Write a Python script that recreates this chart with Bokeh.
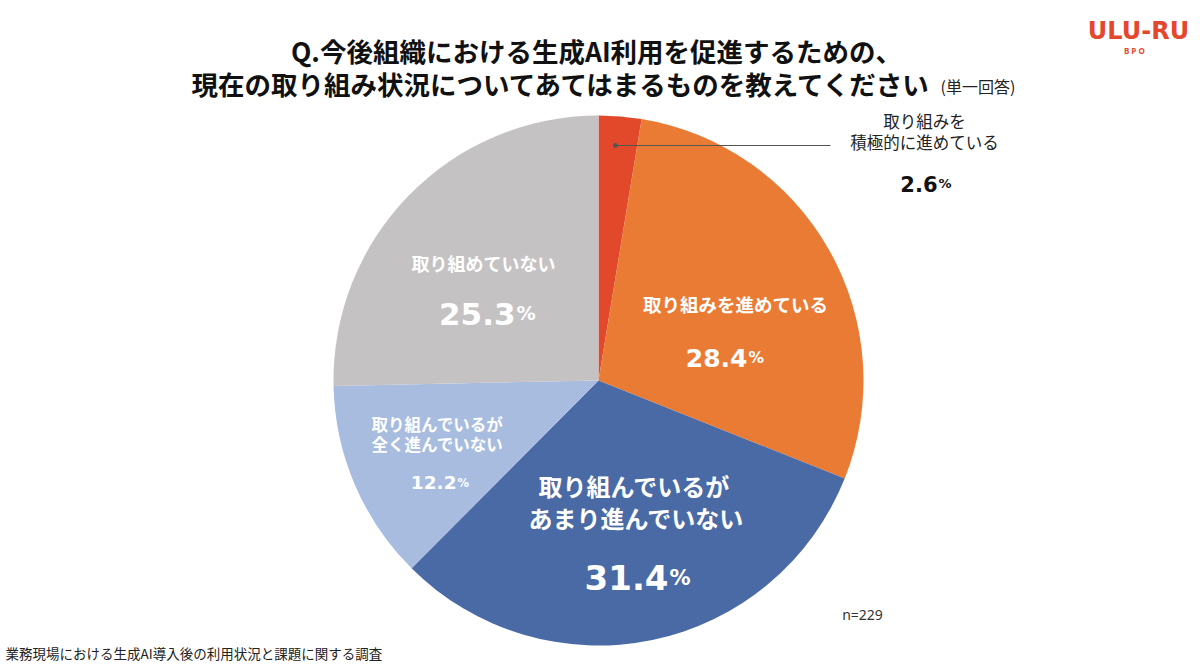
import math
from bokeh.plotting import figure
from bokeh.models import Range1d, ColumnDataSource
from bokeh.core.properties import value
from bokeh.embed import file_html
from bokeh.resources import INLINE

# ---- data ----
categories = ["取り組みを積極的に進めている", "取り組みを進めている",
              "取り組んでいるがあまり進んでいない", "取り組んでいるが全く進んでいない",
              "取り組めていない"]
shares = [2.6, 28.4, 31.4, 12.2, 25.3]
colors = ["#E2492A", "#EA7B35", "#4A6AA6", "#A8BCE0", "#C5C2C4"]
title1 = "Q.今後組織における生成AI利用を促進するための、"
title2 = "現在の取り組み状況についてあてはまるものを教えてください"
title_note = "(単一回答)"
source_note = "業務現場における生成AI導入後の利用状況と課題に関する調査"
n_note = "n=229"

W, H = 1200, 672
FONT = "Noto Sans CJK JP"
NUM = "DejaVu Sans"

def Y(py):
    return H - py

p = figure(width=W, height=H, output_backend="svg", toolbar_location=None,
           x_range=Range1d(0, W), y_range=Range1d(0, H), min_border=0)
p.axis.visible = False
p.grid.visible = False
p.outline_line_color = None
p.background_fill_color = "white"

# ---- pie ----
cx, cy, r = 598, 380, 265
total = sum(shares)
starts, ends = [], []
acc = 0.0
for s in shares:
    starts.append(math.pi / 2 - acc / total * 2 * math.pi)
    acc += s
    ends.append(math.pi / 2 - acc / total * 2 * math.pi)
src = ColumnDataSource(dict(start=starts, end=ends, color=colors))
p.wedge(x=cx, y=Y(cy), radius=r, start_angle="start", end_angle="end",
        direction="clock", fill_color="color", line_color="white",
        line_width=0, source=src)

def txt(x, y, t, size, color="white", bold=True, align="center", font=FONT):
    p.text(x=[x], y=[Y(y)], text=[t], text_font=value(font),
           text_font_size=f"{size}px", text_color=color,
           text_font_style="bold" if bold else "normal",
           text_align=align, text_baseline="middle")

def pct(x, y, v, size, color="white"):
    psize = size * 0.62
    s = f"{v:.1f}"
    p.text(x=[x], y=[Y(y)], text=[s], text_font=value(NUM),
           text_font_size=f"{size}px", text_color=color, text_font_style="bold",
           text_align="right", text_baseline="alphabetic")
    p.text(x=[x + 1], y=[Y(y)], text=["%"], text_font=value(NUM),
           text_font_size=f"{psize}px", text_color=color, text_font_style="bold",
           text_align="left", text_baseline="alphabetic")

# orange
txt(735, 303, "取り組みを進めている", 18.5)
pct(747, 357, shares[1], 25)
# blue
txt(634, 485, "取り組んでいるが", 24)
txt(636, 517, "あまり進んでいない", 24)
pct(668, 577, shares[2], 34)
# light blue
txt(437, 423, "取り組んでいるが", 16.5)
txt(437, 443, "全く進んでいない", 16.5)
pct(456, 482, shares[3], 18.5)
# gray
txt(483, 262, "取り組めていない", 18)
pct(515, 313, shares[4], 31)
# red (outside)
p.line(x=[615, 830], y=[Y(145), Y(145)], line_color="#555555", line_width=1)
p.scatter(x=[615], y=[Y(145)], size=4, color="#555555")
txt(924, 120, "取り組みを", 16.5, color="#222222", bold=False)
txt(924, 141, "積極的に進めている", 16.5, color="#222222", bold=False)
pct(937, 183, shares[0], 21, color="#111111")

# ---- titles and notes ----
txt(596, 50, title1, 26.5, color="#111111")
txt(562, 83, title2, 26.5, color="#111111")
txt(940, 85, title_note, 16, color="#222222", bold=False, align="left")
txt(5, 652, source_note, 13.5, color="#222222", bold=False, align="left")
txt(862, 614, n_note, 14, color="#333333", bold=False, font="Noto Sans")
txt(1138, 30, "ULU-RU", 24, color="#E3472D", font=NUM)
txt(1138, 50, "B   P   O", 8, color="#E3472D", font="Noto Sans")

open("out.html", "w").write(file_html(p, INLINE))
